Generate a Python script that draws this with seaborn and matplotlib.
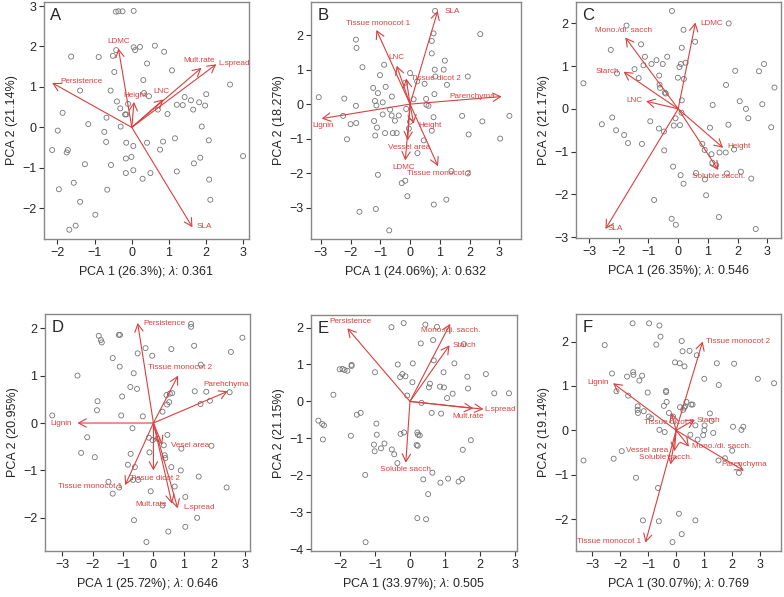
import matplotlib
matplotlib.use('Agg')
import matplotlib.pyplot as plt
import seaborn as sns
import pandas as pd

# ---- panel A : scores, loadings ----
A_PC1 = [-0.43, -0.36, -0.25, 0.05, -0.42, -0.51, 0.09, 0.05, 0.22, 0.62, 0.87, -1.63, -0.89,
         -0.47, 0.41, 1.08, -1.39, -0.57, 0.31, 0.33, 0.46, -0.40, -0.31, -0.10, -0.18, -0.15,
         -1.86, 0.70, 0.96, 1.42, 1.59, 1.65, 1.81, 1.97, 2.00, 2.64, 1.37, 1.21, -1.17, -0.68,
         -0.30, -1.99, -2.14, -1.72, -1.75, -0.74, -0.69, -0.15, 0.04, 0.41, 0.84, 0.76, 1.16,
         1.88, 2.07, -0.16, -0.01, -1.26, -0.56, -0.16, 0.04, 0.50, 0.29, 1.21, 1.84, 1.67, 2.99,
         2.08, 2.11, -1.56, -1.96, -0.66, -1.39, -0.98, -1.51, -1.68]
A_PC2 = [2.86, 2.87, 2.87, 2.88, 1.91, 1.77, 1.91, 1.98, 1.99, 2.02, 1.87, 1.75, 1.74,
         1.37, 1.58, 1.41, 0.91, 0.91, 1.17, 0.85, 0.77, 0.64, 0.47, 0.58, 0.32, 0.32,
         0.36, 0.44, 0.33, 0.75, 0.67, 0.44, 0.62, 0.54, 0.82, 1.06, 0.55, 0.56, 0.08, 0.24,
         0.02, -0.08, -0.56, -0.56, -0.62, -0.11, -0.36, -0.38, -0.46, -0.38, -0.35, -0.55, -0.27,
         0.02, -0.32, -0.77, -0.73, -0.91, -0.93, -1.13, -1.06, -1.13, -1.27, -1.09, -0.75, -0.89, -0.71,
         -1.29, -1.79, -1.37, -1.53, -1.54, -1.84, -2.16, -2.43, -2.53]
A_TRAITS = ['Persistence', 'LDMC', 'Height', 'LNC', 'Mult.rate', 'L.spread', 'SLA']
A_LOAD1 = [-2.14, -0.36, 0.06, 0.85, 1.87, 2.27, 1.63]
A_LOAD2 = [1.10, 1.95, 0.63, 0.69, 1.47, 1.56, -2.47]

# ---- panel B ----
B_PC1 = [0.84, -1.82, -1.80, 0.79, 0.73, 0.73, 2.36, -1.60, -0.87, -1.01, 1.17, 1.13, 0.83, 0.85,
         1.24, 1.94, -1.24, -0.82, -1.08, -0.61, 0.00, -0.16, 0.24, 0.49, -3.07, -2.21, -1.82, -1.18,
         -1.13, -0.92, 0.12, 0.54, 0.55, 0.62, -0.13, 0.82, -2.25, -2.00, -1.81, -2.12, -0.67, -0.62,
         -0.38, -0.51, -0.92, -1.21, -1.11, -1.17, -0.84, -0.58, -0.45, 0.00, -0.04, 0.79, 0.73, 0.46,
         0.25, 1.75, 2.43, 1.97, 3.03, 3.34, 1.39, 1.94, -1.08, -0.28, -0.16, -0.09, 0.80, 1.22,
         -1.70, -1.15, -0.70]
B_PC2 = [2.70, 1.87, 1.63, 2.05, 1.83, 1.47, 2.03, 1.07, 1.14, 0.84, 1.26, 1.00, 1.00, 0.80,
         0.56, 0.80, 0.47, 0.50, 0.32, 0.22, 0.90, 0.62, 0.66, 0.59, 0.20, 0.16, -0.05, 0.09,
         -0.04, 0.05, 0.14, 0.15, -0.02, -0.05, -0.14, 0.29, -0.34, -0.58, -0.55, -1.02, -0.16, -0.33,
         -0.33, -0.48, -0.30, -0.49, -0.68, -0.91, -0.84, -0.84, -0.84, -0.51, -0.71, -0.38, -0.77, -1.05,
         -1.42, -0.34, -0.50, -0.88, -1.00, -0.34, -1.94, -2.01, -2.05, -2.29, -2.22, -2.67, -2.91, -2.77,
         -3.12, -3.04, -3.66]
B_TRAITS = ['SLA', 'Tissue monocot 1', 'LNC', 'Tissue dicot 2', 'Parenchyma', 'Lignin',
            'Height', 'Vessel area', 'LDMC', 'Tissue monocot 2']
B_LOAD1 = [0.93, -1.13, -0.45, -0.13, 3.08, -2.97, 0.12, -0.08, -0.16, 0.94]
B_LOAD2 = [2.70, 2.15, 1.11, 0.74, 0.22, -0.42, -0.57, -1.05, -1.63, -1.80]

# ---- panel C ----
C_PC1 = [-0.21, -1.74, 1.70, 0.18, 0.57, -1.25, -2.27, -1.12, -0.73, -0.90, -0.52, -0.37, -1.17,
         0.12, 0.09, 0.25, 0.04, -1.47, -2.06, -1.33, -0.64, -0.01, 0.19, -0.63, -0.61, -0.45, -0.42,
         -3.19, 1.61, 1.92, 2.72, 2.89, 3.24, 2.83, 2.07, 2.28, 2.36, 1.16, 0.12, 3.13, -2.22, -2.57,
         -2.09, -1.82, -1.69, -1.22, -0.94, -0.65, -0.48, -0.47, -0.09, -0.15, 0.06, 0.11, 1.07, 1.69,
         0.81, 0.89, 1.12, 1.39, 1.60, 1.15, 1.28, 1.88, 2.11, 0.60, 0.90, 1.64, 2.46, -0.17, 0.08,
         0.18, 0.94, -0.81, -0.22, -0.08, 1.37, 2.61]
C_PC2 = [2.29, 1.95, 2.00, 1.85, 1.57, 1.51, 1.38, 1.22, 1.14, 1.05, 1.05, 1.22, 1.02,
         1.43, 1.05, 1.08, 0.98, 0.93, 0.83, 0.72, 0.78, 0.73, 0.70, 0.57, 0.49, 0.38, 0.36,
         0.60, 0.56, 0.89, 0.88, 1.05, 0.50, 0.11, 0.18, 0.00, -0.22, 0.09, 0.20, -0.43, -0.20, -0.36,
         -0.50, -0.61, -0.80, -0.82, -0.29, -0.46, -0.53, -0.97, -0.22, -0.39, -0.38, -0.09, -0.44, -0.37,
         -0.82, -0.96, -1.06, -1.02, -1.02, -1.26, -1.32, -0.95, -1.47, -1.50, -1.65, -1.51, -1.63, -1.35, -1.55,
         -1.75, -2.02, -2.13, -2.57, -2.71, -2.53, -2.81]
C_TRAITS = ['Mono./di. sacch', 'LDMC', 'Starch', 'LNC', 'Height', 'Soluble sacch.', 'SLA']
C_LOAD1 = [-1.78, 0.58, -1.84, -1.08, 1.51, 1.35, -2.45]
C_LOAD2 = [1.67, 2.02, 0.87, 0.18, -0.91, -1.43, -2.81]

# ---- panel D ----
D_PC1 = [-1.80, -1.73, -1.70, -1.14, -1.10, 1.24, 1.24, 2.93, -0.26, -0.52, -0.04, 0.59, 1.34,
         1.56, 2.55, -1.34, -1.11, -2.50, -0.65, -0.76, -0.54, -1.03, -1.84, -1.86, 0.43, 0.54, 0.62,
         0.45, 0.52, 0.30, 1.36, 1.74, 1.86, 1.55, 2.51, -3.33, -1.06, -0.35, -2.18, -0.69, -2.38,
         -1.93, -0.15, -0.03, 0.13, 0.46, 0.34, -0.13, 0.37, 0.39, 0.92, 1.91, -0.75, -0.84, -0.61,
         0.59, 0.90, 1.49, -0.67, -0.50, -1.48, -1.13, -1.34, 0.70, -0.09, 1.05, 0.30, 2.41, 1.44,
         1.05, -0.64, 0.49, -0.23]
D_PC2 = [1.84, 1.75, 1.70, 1.86, 1.86, 2.09, 2.03, 1.80, 1.58, 1.47, 1.42, 1.56, 1.63,
         1.23, 1.50, 1.37, 1.19, 1.00, 1.05, 0.76, 0.72, 0.56, 0.46, 0.27, 0.59, 0.62, 0.63,
         0.39, 0.44, 0.24, 0.67, 0.66, 0.47, 0.40, 0.65, 0.16, 0.16, 0.14, -0.30, -0.11, -0.63,
         -0.72, -0.31, -0.36, -0.33, -0.25, -0.47, -0.62, -0.68, -0.74, -0.54, -0.48, -0.65, -0.88, -0.93,
         -0.93, -1.00, -1.13, -1.20, -1.20, -1.24, -1.36, -1.49, -1.34, -1.44, -1.56, -1.74, -1.36, -2.00,
         -2.19, -2.05, -2.29, -2.51]
D_TRAITS = ['Persistence', 'Tissue monocot 2', 'Parehchyma', 'Lignin', 'Vesel area',
            'Tissue dicot 2', 'Tissue monocot 1', 'Mult.rate', 'L.spread']
D_LOAD1 = [-0.52, 0.81, 2.45, -2.50, 0.29, 0.00, -0.93, 0.61, 0.80]
D_LOAD2 = [2.11, 1.00, 0.67, 0.00, -0.46, -1.00, -1.31, -1.70, -1.80]

# ---- panel E ----
E_PC1 = [-0.53, -0.18, 0.44, 0.77, 0.66, 0.31, 1.54, 0.68, 1.27, 0.08, -0.35, -1.67, -1.67, -2.01,
         -1.93, -1.87, -1.79, -1.00, -0.22, -0.13, -0.28, 0.07, 0.96, 1.64, 2.17, 0.97, 0.86, 0.57,
         0.54, 1.66, 1.22, 1.06, 2.41, 2.83, -0.08, -2.19, 0.33, 0.62, 0.89, -2.62, -2.51, -2.46,
         -2.49, -1.41, -1.52, -0.96, -0.95, -1.69, -0.27, -0.17, 0.21, 0.23, 0.28, 0.19, 0.22, -1.03,
         -1.01, -0.73, -0.83, -0.52, -0.45, -0.36, 1.74, 1.51, -1.28, 0.64, 0.38, 0.87, 1.09, 1.39,
         1.49, 0.52, 0.21, 0.46, -1.27]
E_PC2 = [2.01, 2.12, 2.08, 2.02, 1.66, 1.57, 1.55, 1.11, 1.03, 1.03, 1.00, 0.99, 0.96, 0.87,
         0.88, 0.85, 0.83, 0.79, 0.74, 0.68, 0.66, 0.52, 0.79, 0.67, 0.74, 0.38, 0.40, 0.48,
         0.38, 0.35, 0.21, 0.09, 0.22, 0.22, 0.16, 0.18, -0.04, -0.31, -0.33, -0.52, -0.61, -0.65,
         -1.03, -0.31, -0.36, -0.60, -0.90, -0.93, -0.88, -0.84, -0.84, -0.90, -0.92, -1.18, -1.20, -1.17,
         -1.35, -1.14, -1.27, -1.30, -1.43, -1.67, -1.05, -1.31, -1.99, -1.93, -2.11, -2.20, -2.09, -2.17,
         -2.10, -2.51, -3.16, -3.19, -3.81]
E_TRAITS = ['Persistence', 'Mono./di. sacch.', 'Starch', 'L.spread', 'Mult.rate', 'Soluble sacch.']
E_LOAD1 = [-1.79, 1.15, 1.13, 2.10, 1.81, -0.12]
E_LOAD2 = [1.98, 2.10, 1.52, -0.21, -0.19, -1.66]

# ---- panel F ----
F_PC1 = [-1.56, -0.97, -0.60, -0.56, -0.71, -2.56, 0.20, 0.48, 0.23, 0.74, -0.04, 0.13, 0.30,
         1.46, 2.08, 1.01, 1.53, 2.93, 3.51, -2.30, -2.14, -1.54, -1.53, -1.76, -1.22, -1.32, -1.72,
         -1.02, -0.36, -0.36, -1.38, -1.38, -1.37, -1.16, -0.98, -0.89, -0.34, -0.44, -0.26, -0.11,
         0.37, 0.14, 0.25, 0.32, 0.54, 0.59, 0.29, 1.21, 1.27, 1.02, 1.01, 0.69, 0.97, 1.33, 0.51,
         0.77, -0.60, -0.41, 2.04, 2.41, 2.34, 2.01, 1.75, 1.52, 2.25, -2.24, -1.95, -3.32, -1.44,
         -0.65, -1.19, -0.62, 0.10, 0.69, 0.20, -0.13]
F_PC2 = [2.41, 2.41, 2.36, 2.11, 1.93, 1.92, 2.01, 1.79, 1.78, 1.69, 1.53, 1.51, 1.44,
         1.51, 1.50, 1.16, 1.02, 1.16, 1.06, 1.28, 0.88, 1.31, 1.25, 1.21, 1.23, 1.12, 0.78,
         0.85, 0.89, 0.86, 0.54, 0.46, 0.39, 0.43, 0.31, 0.27, 0.64, 0.55, 0.39, 0.31,
         0.64, 0.52, 0.46, 0.54, 0.58, 0.58, 0.51, 0.38, 0.21, 0.11, 0.00, 0.11, -0.11, -0.06, -0.10,
         -0.21, 0.01, -0.04, 0.08, 0.08, 0.01, -0.46, -0.63, -0.68, -0.96, -0.64, -0.47, -0.68, -1.07,
         -1.30, -2.03, -2.05, -1.88, -2.03, -2.34, -2.52]
F_TRAITS = ['Tissue monocot 2', 'Lignin', 'Starch', 'Tissue dicot 2', 'Mono./di. sacch.',
            'Vessel area', 'Soluble sacch.', 'Parenchyma', 'Tissue monocot 1']
F_LOAD1 = [0.95, -2.26, 0.67, -0.17, 0.46, -0.06, -0.20, 2.43, -1.10]
F_LOAD2 = [2.00, 1.06, 0.24, 0.39, -0.37, -0.47, -0.77, -0.91, -2.53]

# axis texts
PC1_PCT = ['26.3%', '24.06%', '26.35%', '25.72%', '33.97%', '30.07%']
PC2_PCT = ['21.14%', '18.27%', '21.17%', '20.95%', '21.15%', '19.14%']
LAMBDA = ['0.361', '0.632', '0.546', '0.646', '0.505', '0.769']

# ---- layout (not data): label anchors (x, y, ha) per panel ----
LABEL_POS = {
    'A': [(-1.93, 1.14, 'left'), (-0.34, 2.13, 'center'), (0.09, 0.78, 'center'),
          (0.80, 0.88, 'center'), (1.81, 1.65, 'center'), (2.34, 1.58, 'left'), (1.75, -2.44, 'left')],
    'B': [(1.16, 2.69, 'left'), (-1.09, 2.35, 'center'), (-0.45, 1.34, 'center'), (0.04, 0.73, 'left'),
          (2.09, 0.23, 'center'), (-2.91, -0.63, 'center'), (0.66, -0.63, 'center'),
          (-0.04, -1.26, 'center'), (-0.21, -1.83, 'center'), (0.99, -2.02, 'center')],
    'C': [(-1.83, 1.83, 'center'), (0.73, 2.00, 'left'), (-2.39, 0.88, 'center'), (-1.47, 0.19, 'center'),
          (1.66, -0.88, 'left'), (1.36, -1.59, 'center'), (-2.11, -2.79, 'center')],
    'D': [(-0.34, 2.11, 'left'), (0.87, 1.17, 'center'), (2.40, 0.82, 'center'), (-3.03, -0.01, 'center'),
          (1.20, -0.48, 'center'), (0.05, -1.16, 'center'), (-2.09, -1.33, 'center'),
          (-0.07, -1.71, 'center'), (1.52, -1.79, 'center')],
    'E': [(-1.69, 2.17, 'center'), (1.15, 1.91, 'center'), (1.57, 1.51, 'center'), (2.58, -0.21, 'center'),
          (1.67, -0.42, 'center'), (-0.11, -1.84, 'center')],
    'F': [(2.22, 2.00, 'center'), (-2.81, 1.08, 'center'), (1.14, 0.22, 'center'), (-0.26, 0.17, 'center'),
          (1.62, -0.36, 'center'), (-1.04, -0.46, 'center'), (-0.38, -0.62, 'center'),
          (2.43, -0.76, 'center'), (-2.40, -2.51, 'center')],
}

# axes boxes in pixels (left, top, right, bottom) and limits
W, H = 784, 597
BOXES = {'A': (44, 2, 249, 239), 'B': (311, 2, 521, 239), 'C': (576, 2, 781, 238),
         'D': (45, 314, 250, 551), 'E': (311, 315, 517, 551), 'F': (576, 314, 781, 551)}
LIMS = {'A': ((-2.36, 3.15), (-2.76, 3.10)), 'B': ((-3.33, 3.73), (-3.91, 2.96)),
        'C': ((-3.44, 3.46), (-3.02, 2.50)), 'D': ((-3.57, 3.18), (-2.70, 2.30)),
        'E': ((-2.83, 3.06), (-4.05, 2.34)), 'F': ((-3.59, 3.76), (-2.72, 2.62))}
XTICKS = {'A': [-2, -1, 0, 1, 2, 3], 'B': [-3, -2, -1, 0, 1, 2, 3], 'C': [-3, -2, -1, 0, 1, 2, 3],
          'D': [-3, -2, -1, 0, 1, 2, 3], 'E': [-2, -1, 0, 1, 2, 3], 'F': [-3, -2, -1, 0, 1, 2, 3]}
YTICKS = {'A': [-2, -1, 0, 1, 2, 3], 'B': [-3, -2, -1, 0, 1, 2], 'C': [-3, -2, -1, 0, 1, 2],
          'D': [-2, -1, 0, 1, 2], 'E': [-4, -3, -2, -1, 0, 1, 2], 'F': [-2, -1, 0, 1, 2]}

RED = '#d8413f'
GREY = '#747474'

sns.set_style('white')
plt.rcParams['font.family'] = ['Liberation Sans', 'DejaVu Sans']
plt.rcParams['mathtext.fontset'] = 'custom'
plt.rcParams['mathtext.it'] = 'Liberation Sans:italic'
plt.rcParams['axes.unicode_minus'] = True


def draw_panel(fig, key, idx, pc1, pc2, traits, l1, l2):
    left, top, right, bottom = BOXES[key]
    ax = fig.add_axes([left / W, 1 - bottom / H, (right - left) / W, (bottom - top) / H])
    scores = pd.DataFrame({'PC1': pc1, 'PC2': pc2})
    sns.scatterplot(data=scores, x='PC1', y='PC2', ax=ax, s=13, facecolor='none',
                    edgecolor=GREY, linewidth=0.6, zorder=2)
    for name, x, y, (tx, ty, ha) in zip(traits, l1, l2, LABEL_POS[key]):
        ax.annotate('', xy=(x, y), xytext=(0, 0),
                    arrowprops=dict(arrowstyle='->,head_length=0.55,head_width=0.3',
                                    color=RED, lw=0.8, shrinkA=0, shrinkB=0), zorder=3)
        ax.text(tx, ty, name, color=RED, fontsize=5.9, ha=ha, va='center', zorder=4)
    ax.set_xlim(*LIMS[key][0])
    ax.set_ylim(*LIMS[key][1])
    ax.set_xticks(XTICKS[key])
    ax.set_yticks(YTICKS[key])
    ax.tick_params(direction='out', length=3.5, width=0.8, color='#333333',
                   labelsize=9, pad=2, left=True, bottom=True)
    for s in ax.spines.values():
        s.set_color('#888888')
        s.set_linewidth(1.0)
    ax.set_xlabel(f'PCA 1 ({PC1_PCT[idx]}); $\\mathit{{\\lambda}}$: {LAMBDA[idx]}', fontsize=9, labelpad=4)
    ax.set_ylabel(f'PCA 2 ({PC2_PCT[idx]})', fontsize=9, labelpad=3)
    ax.text(0.03, 0.975, key, transform=ax.transAxes, fontsize=12, ha='left', va='top')
    return ax


def main():
    fig = plt.figure(figsize=(W / 100, H / 100), dpi=100)
    panels = [('A', A_PC1, A_PC2, A_TRAITS, A_LOAD1, A_LOAD2),
              ('B', B_PC1, B_PC2, B_TRAITS, B_LOAD1, B_LOAD2),
              ('C', C_PC1, C_PC2, C_TRAITS, C_LOAD1, C_LOAD2),
              ('D', D_PC1, D_PC2, D_TRAITS, D_LOAD1, D_LOAD2),
              ('E', E_PC1, E_PC2, E_TRAITS, E_LOAD1, E_LOAD2),
              ('F', F_PC1, F_PC2, F_TRAITS, F_LOAD1, F_LOAD2)]
    for i, (key, p1, p2, tr, l1, l2) in enumerate(panels):
        draw_panel(fig, key, i, p1, p2, tr, l1, l2)
    fig.savefig('out.png', dpi=100)
    plt.close(fig)


if __name__ == '__main__':
    main()
